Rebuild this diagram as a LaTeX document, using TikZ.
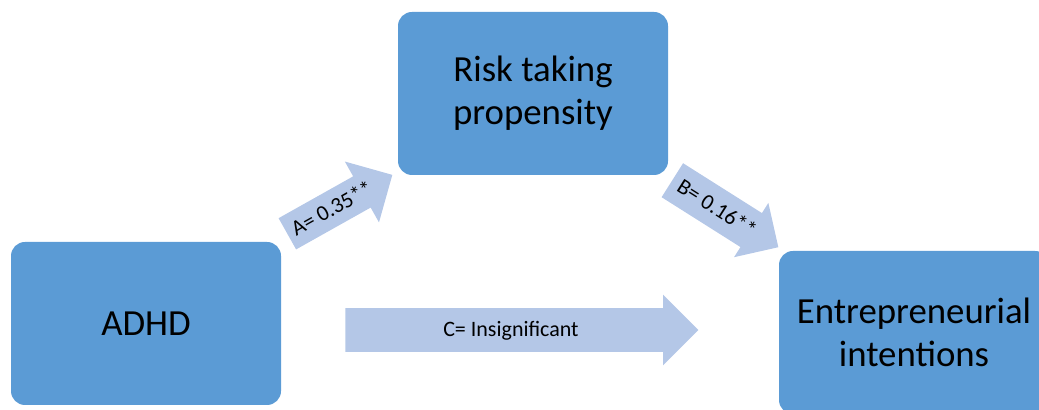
\documentclass[tikz,border=0pt]{standalone}
\usepackage{fontspec}
\setmainfont{Carlito}
\usetikzlibrary{shapes.arrows}
\definecolor{boxblue}{HTML}{5B9BD5}
\definecolor{arrowblue}{HTML}{B4C7E7}

\begin{document}
\begin{tikzpicture}[
    x=0.5pt,
    y=-0.5pt,
    box/.style={
        fill=boxblue,
        rounded corners=7pt,
        minimum width=135pt,
        minimum height=81.5pt,
        inner sep=0pt,
        align=center,
        font=\fontsize{18.4}{21.5}\selectfont,
    },
    flow/.style={
        single arrow,
        fill=arrowblue,
        inner sep=0pt,
        anchor=tail,
        font=\fontsize{11}{13}\selectfont,
    },
]

    \clip (0,0) rectangle (1039,410);

    \node[box] (adhd) at (146,323.5) {ADHD};
    \node[box] (risk) at (533,93.5) {Risk taking\\propensity};
    \node[box] (intent) at (914,332.5) {Entrepreneurial\\intentions};

    % Draw arrows
    \node[flow, text height=12.25pt, text depth=5.25pt,
        minimum height=60.2pt, minimum width=34.5pt,
        single arrow head extend=8.5pt, rotate=29.3] (pathA) at (287,234) {A= 0.35**};
    \node[flow, text height=13.35pt, text depth=6.35pt,
        minimum height=62.7pt, minimum width=31.8pt,
        single arrow head extend=6pt, rotate=-32.3] (pathB) at (672,180) {B= 0.16**};
    \node[flow, text height=14.25pt, text depth=7.25pt,
        minimum height=176.5pt, minimum width=35pt,
        single arrow head extend=6.75pt] (pathC) at (345,330) {C= Insignificant};

\end{tikzpicture}
\end{document}
